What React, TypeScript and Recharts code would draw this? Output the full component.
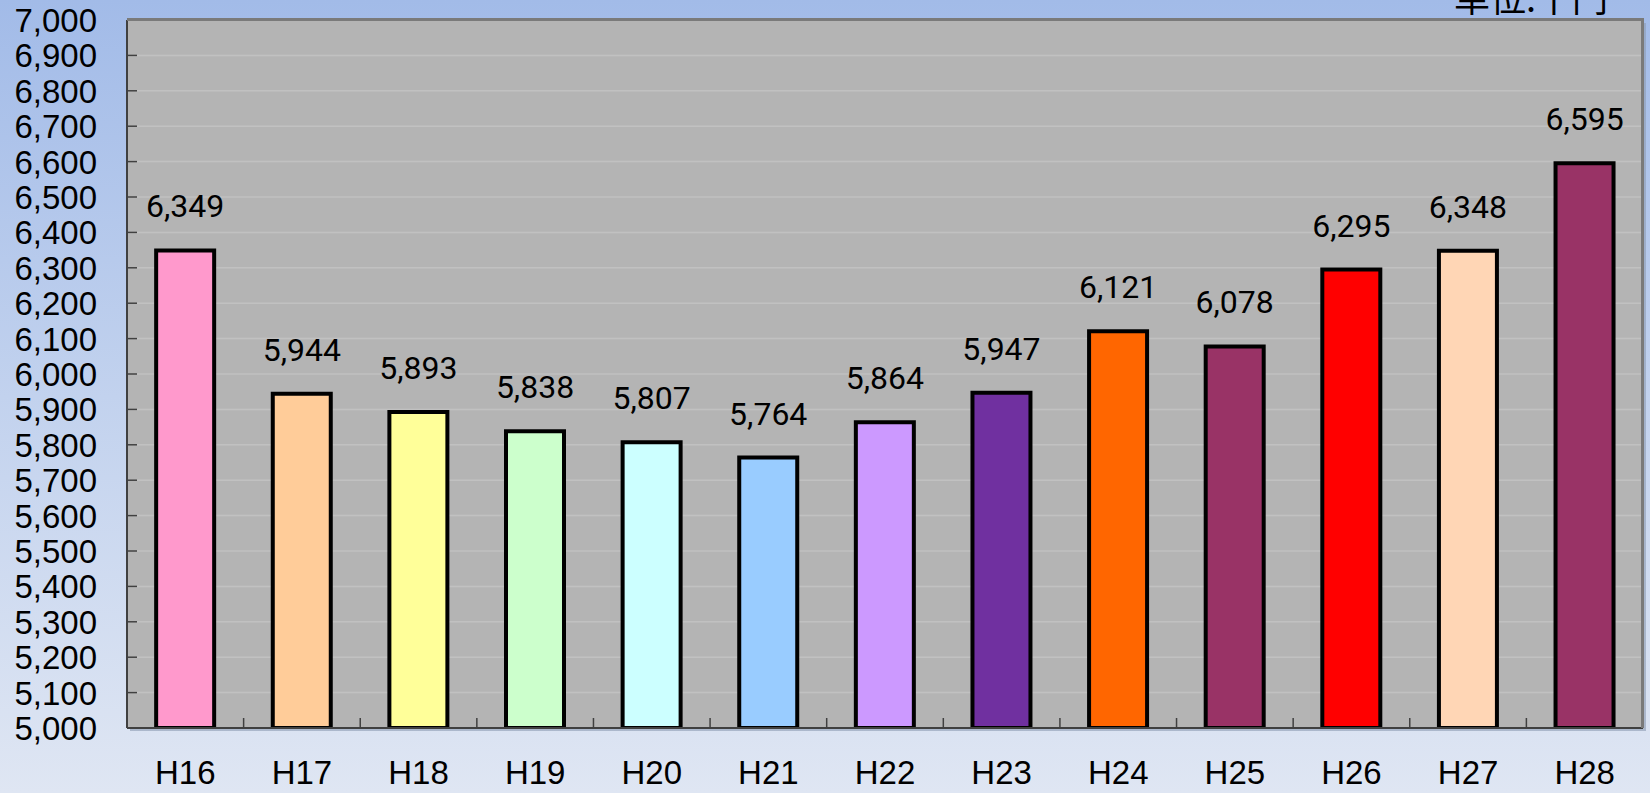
import React from 'react';
import {
  BarChart,
  Bar,
  XAxis,
  YAxis,
  CartesianGrid,
  LabelList,
  Cell
} from 'recharts';

const years = ['H16', 'H17', 'H18', 'H19', 'H20', 'H21', 'H22', 'H23', 'H24', 'H25', 'H26', 'H27', 'H28'];
const values = [6349, 5944, 5893, 5838, 5807, 5764, 5864, 5947, 6121, 6078, 6295, 6348, 6595];
const barColors = [
  '#ff99cc', '#ffcc99', '#ffff99', '#ccffcc', '#ccffff', '#99ccff', '#cc99ff',
  '#7030a0', '#ff6600', '#993366', '#ff0000', '#ffd6b5', '#993366'
];
const yTicks = [
  5000, 5100, 5200, 5300, 5400, 5500, 5600, 5700, 5800, 5900, 6000,
  6100, 6200, 6300, 6400, 6500, 6600, 6700, 6800, 6900, 7000
];
const unitLabel = '単位:千円';

const data = years.map((name, i) => ({ name, value: values[i] }));

const W = 1650;
const H = 793;
const PLOT_LEFT = 127;
const PLOT_RIGHT = 1643;
const PLOT_TOP = 20;
const PLOT_BOTTOM = 728;
const BAND = (PLOT_RIGHT - PLOT_LEFT) / years.length;

const fmt = (v: number) => v.toLocaleString('en-US');

const YTick = (props: any) => {
  const { y, payload } = props;
  return (
    <g>
      <line x1={PLOT_LEFT} x2={PLOT_LEFT + 10} y1={y} y2={y} stroke="#404040" strokeWidth={1.5} />
      <text
        x={97}
        y={y + 12}
        textAnchor="end"
        fontFamily="'Liberation Sans', Arial, sans-serif"
        fontSize={33}
        fill="#000"
      >
        {fmt(payload.value)}
      </text>
    </g>
  );
};

const XTick = (props: any) => {
  const { x, payload } = props;
  const bx = x + BAND / 2;
  return (
    <g>
      <line x1={bx} x2={bx} y1={PLOT_BOTTOM} y2={PLOT_BOTTOM - 10} stroke="#404040" strokeWidth={1.5} />
      <text
        x={x}
        y={PLOT_BOTTOM + 56}
        textAnchor="middle"
        fontFamily="'Liberation Sans', Arial, sans-serif"
        fontSize={33}
        fill="#000"
      >
        {payload.value}
      </text>
    </g>
  );
};

const ValueLabel = (props: any) => {
  const { x, y, width, value } = props;
  return (
    <text
      x={x + width / 2}
      y={y - 33}
      textAnchor="middle"
      fontFamily="Roboto, 'Liberation Sans', sans-serif"
      fontSize={32}
      fill="#000"
    >
      {fmt(value)}
    </text>
  );
};

export default function App() {
  return (
    <div
      style={{
        position: 'absolute',
        left: 0,
        top: 0,
        width: W,
        height: H,
        overflow: 'hidden',
        background: 'linear-gradient(to bottom, #a2bbe8 0%, #c2d2ee 50%, #dfe6f3 100%)'
      }}
    >
      <div
        style={{
          position: 'absolute',
          left: 1454,
          top: -22,
          fontFamily: "'Noto Sans CJK JP', sans-serif",
          fontSize: 36,
          lineHeight: '36px',
          color: '#000',
          whiteSpace: 'nowrap'
        }}
      >
        {unitLabel}
      </div>
      <div
        style={{
          position: 'absolute',
          left: PLOT_LEFT + 3,
          top: PLOT_TOP + 3,
          width: PLOT_RIGHT - PLOT_LEFT,
          height: PLOT_BOTTOM - PLOT_TOP,
          background: '#8c9bb3',
          opacity: 0.6
        }}
      />
      <div style={{ position: 'absolute', left: 0, top: 0 }}>
        <BarChart
          width={W}
          height={H}
          data={data}
          margin={{ top: PLOT_TOP, right: W - PLOT_RIGHT, bottom: 0, left: 0 }}
          barCategoryGap="25%"
        >
          <CartesianGrid vertical={false} fill="#b4b4b4" stroke="#c1c1c1" strokeWidth={1.5} />
          <XAxis
            dataKey="name"
            height={H - PLOT_BOTTOM}
            axisLine={{ stroke: '#404040', strokeWidth: 2 }}
            tickLine={false}
            tick={<XTick />}
            interval={0}
          />
          <YAxis
            width={PLOT_LEFT}
            domain={[5000, 7000]}
            ticks={yTicks}
            interval={0}
            allowDataOverflow
            axisLine={{ stroke: '#404040', strokeWidth: 2 }}
            tickLine={false}
            tick={<YTick />}
          />
          <Bar dataKey="value" stroke="#000" strokeWidth={4} isAnimationActive={false}>
            {data.map((d, i) => (
              <Cell key={d.name} fill={barColors[i]} />
            ))}
            <LabelList dataKey="value" content={<ValueLabel />} />
          </Bar>
        </BarChart>
      </div>
      <div
        style={{
          position: 'absolute',
          left: PLOT_LEFT,
          top: PLOT_TOP - 2,
          width: PLOT_RIGHT - PLOT_LEFT + 1,
          height: PLOT_BOTTOM - PLOT_TOP + 2,
          borderTop: '3px solid #7a7a7a',
          borderRight: '3px solid #7a7a7a',
          boxSizing: 'border-box',
          pointerEvents: 'none'
        }}
      />
    </div>
  );
}
